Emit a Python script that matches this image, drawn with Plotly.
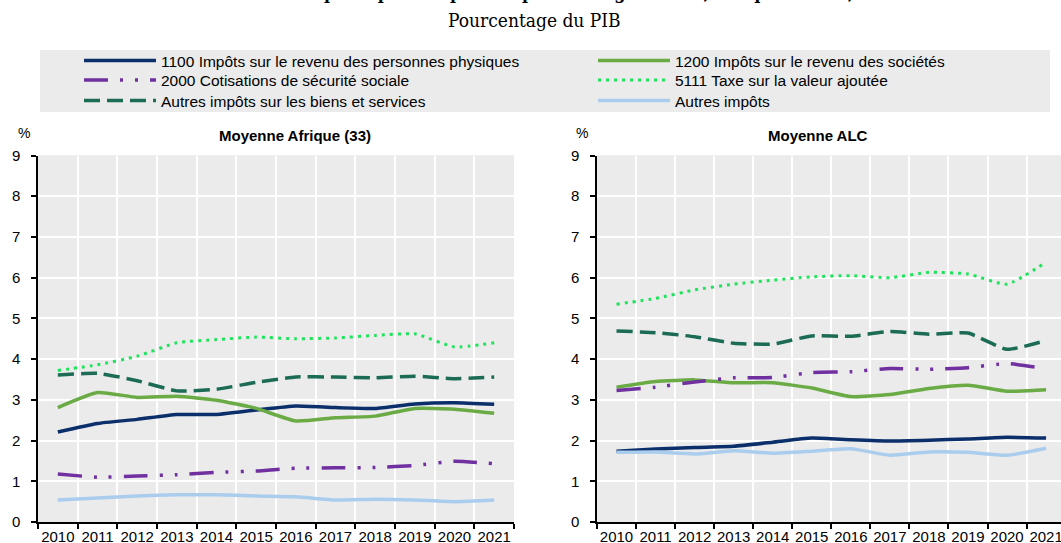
import plotly.graph_objects as go

W, H = 1061, 543

years = ["2010", "2011", "2012", "2013", "2014", "2015", "2016", "2017", "2018", "2019", "2020", "2021"]

series_names = [
    "1100 Impôts sur le revenu des personnes physiques",
    "1200 Impôts sur le revenu des sociétés",
    "2000 Cotisations de sécurité sociale",
    "5111 Taxe sur la valeur ajoutée",
    "Autres impôts sur les biens et services",
    "Autres impôts",
]
legend_ids = ["legend", "legend2", "legend3", "legend4", "legend5", "legend6"]

# Moyenne Afrique (33)
afr_1100 = [2.21, 2.42, 2.52, 2.64, 2.64, 2.75, 2.85, 2.81, 2.79, 2.90, 2.93, 2.89]
afr_1200 = [2.81, 3.18, 3.06, 3.09, 2.99, 2.79, 2.48, 2.56, 2.60, 2.79, 2.77, 2.67]
afr_2000 = [1.18, 1.10, 1.13, 1.16, 1.22, 1.25, 1.32, 1.33, 1.34, 1.39, 1.49, 1.43]
afr_5111 = [3.72, 3.86, 4.07, 4.40, 4.48, 4.54, 4.50, 4.52, 4.58, 4.62, 4.30, 4.40]
afr_biens = [3.61, 3.65, 3.47, 3.22, 3.26, 3.43, 3.56, 3.56, 3.54, 3.58, 3.52, 3.56]
afr_autres = [0.54, 0.59, 0.64, 0.67, 0.67, 0.64, 0.62, 0.54, 0.56, 0.54, 0.50, 0.54]

# Moyenne ALC
alc_1100 = [1.74, 1.79, 1.83, 1.86, 1.96, 2.06, 2.02, 1.99, 2.01, 2.04, 2.08, 2.06]
alc_1200 = [3.31, 3.45, 3.49, 3.42, 3.42, 3.29, 3.08, 3.13, 3.28, 3.36, 3.21, 3.25]
alc_2000 = [3.23, 3.31, 3.44, 3.54, 3.55, 3.67, 3.69, 3.77, 3.75, 3.79, 3.89, 3.76]
alc_5111 = [5.35, 5.49, 5.70, 5.84, 5.94, 6.02, 6.05, 6.00, 6.13, 6.09, 5.84, 6.38]
alc_biens = [4.69, 4.65, 4.55, 4.39, 4.37, 4.57, 4.56, 4.68, 4.61, 4.64, 4.24, 4.46]
alc_autres = [1.71, 1.72, 1.67, 1.75, 1.69, 1.74, 1.80, 1.64, 1.72, 1.71, 1.64, 1.81]

afr = [afr_1100, afr_1200, afr_2000, afr_5111, afr_biens, afr_autres]
alc = [alc_1100, alc_1200, alc_2000, alc_5111, alc_biens, alc_autres]

styles = [
    dict(color="#0b2f6b", width=3.5, dash="solid"),
    dict(color="#6aab45", width=3.5, dash="solid"),
    dict(color="#7030a0", width=3.5, dash="24px,12px,3px,12px,3px,12px"),
    dict(color="#1fe35c", width=3, dash="3px,5px"),
    dict(color="#1b6b55", width=3.5, dash="16px,7px"),
    dict(color="#aacdee", width=3.5, dash="solid"),
]

FONT = "Arial, Liberation Sans, sans-serif"
SERIF = "DejaVu Serif Condensed, DejaVu Serif, serif"
BG = "#ebebeb"

fig = go.Figure()
for i, name in enumerate(series_names):
    fig.add_trace(go.Scatter(x=years, y=afr[i], name=name, mode="lines",
                             line=dict(shape="spline", smoothing=0.5, **styles[i]),
                             legendgroup=name, legend=legend_ids[i], showlegend=True,
                             xaxis="x", yaxis="y"))
for i, name in enumerate(series_names):
    fig.add_trace(go.Scatter(x=years, y=alc[i], name=name, mode="lines",
                             line=dict(shape="spline", smoothing=0.5, **styles[i]),
                             legendgroup=name, legend=legend_ids[i], showlegend=False,
                             xaxis="x2", yaxis="y2"))

def px_x(p):
    return p / W

def px_y(p):
    return 1 - p / H

ydom = [px_y(522), px_y(155.5)]
left_dom = [px_x(38), px_x(514)]
right_start = 597
right_dom = [px_x(right_start), 1.0]
right_range_end = -0.5 + (W - right_start) / 39.05

xcommon = dict(type="category", tickson="boundaries", showgrid=True, gridcolor="white",
               gridwidth=2, showline=True, linecolor="black", linewidth=1.5,
               ticks="outside", ticklen=5, tickcolor="black", tickwidth=1.5, tickangle=0,
               tickfont=dict(family=FONT, size=15, color="black"), automargin=False,
               zeroline=False, fixedrange=True)
ycommon = dict(range=[0, 9], dtick=1, tick0=0, showgrid=True, gridcolor="white", gridwidth=2,
               showline=True, linecolor="black", linewidth=1.5, ticks="outside", ticklen=5,
               tickcolor="black", tickwidth=1.5, ticklabelstandoff=8,
               tickfont=dict(family=FONT, size=15, color="black"), automargin=False,
               zeroline=False, fixedrange=True)

legend_common = dict(orientation="v", xanchor="left", yanchor="middle",
                     bgcolor="rgba(0,0,0,0)", itemwidth=72,
                     font=dict(family=FONT, size=15.5, color="black"),
                     tracegroupgap=0, itemclick=False, itemdoubleclick=False)
col_x = [79, 593]
row_y = [61, 80.5, 101]
legend_layout = {}
for i, lid in enumerate(legend_ids):
    legend_layout[lid] = dict(x=px_x(col_x[i % 2]), y=px_y(row_y[i // 2]), **legend_common)

fig.update_layout(
    width=W, height=H,
    margin=dict(l=0, r=0, t=0, b=0),
    paper_bgcolor="rgba(0,0,0,0)",
    plot_bgcolor=BG,
    font=dict(family=FONT, size=15, color="black"),
    xaxis=dict(domain=left_dom, range=[-0.5, 11.5], anchor="y", **xcommon),
    yaxis=dict(domain=ydom, anchor="x", **ycommon),
    xaxis2=dict(domain=right_dom, range=[-0.5, right_range_end], anchor="y2", **xcommon),
    yaxis2=dict(domain=ydom, anchor="x2", **ycommon),
    showlegend=True,
    shapes=[
        dict(type="rect", xref="paper", yref="paper", x0=px_x(40), x1=px_x(1050),
             y0=px_y(112), y1=px_y(50), fillcolor=BG, line=dict(width=0), layer="below"),
        dict(type="rect", xref="paper", yref="paper", x0=left_dom[0], x1=left_dom[1],
             y0=ydom[0], y1=ydom[1], fillcolor=BG, line=dict(width=0), layer="below"),
        dict(type="rect", xref="paper", yref="paper", x0=right_dom[0], x1=right_dom[1],
             y0=ydom[0], y1=ydom[1], fillcolor=BG, line=dict(width=0), layer="below"),
    ],
    annotations=[
        dict(text="<b>Tendances des principaux impôts en pourcentage du PIB, Afrique et ALC, 2010-21</b>",
             x=px_x(560), y=px_y(5), xref="paper", yref="paper", xanchor="center",
             yanchor="bottom", showarrow=False,
             font=dict(family=SERIF, size=18, color="black")),
        dict(text="Pourcentage du PIB", x=px_x(534), y=px_y(20), xref="paper", yref="paper",
             xanchor="center", yanchor="middle", showarrow=False,
             font=dict(family=SERIF, size=19, color="black")),
        dict(text="<b>Moyenne Afrique (33)</b>", x=px_x(295), y=px_y(135), xref="paper",
             yref="paper", xanchor="center", yanchor="middle", showarrow=False,
             font=dict(family=FONT, size=15, color="black")),
        dict(text="<b>Moyenne ALC</b>", x=px_x(818), y=px_y(135), xref="paper",
             yref="paper", xanchor="center", yanchor="middle", showarrow=False,
             font=dict(family=FONT, size=15, color="black")),
        dict(text="%", x=px_x(24), y=px_y(133), xref="paper", yref="paper",
             xanchor="center", yanchor="middle", showarrow=False,
             font=dict(family=FONT, size=14, color="black")),
        dict(text="%", x=px_x(582), y=px_y(133), xref="paper", yref="paper",
             xanchor="center", yanchor="middle", showarrow=False,
             font=dict(family=FONT, size=14, color="black")),
    ],
    **legend_layout,
)

fig.write_html("out.html", config={"displayModeBar": False},
               post_script="document.body.style.margin='0';document.body.style.overflow='hidden';document.body.style.background='white';")
